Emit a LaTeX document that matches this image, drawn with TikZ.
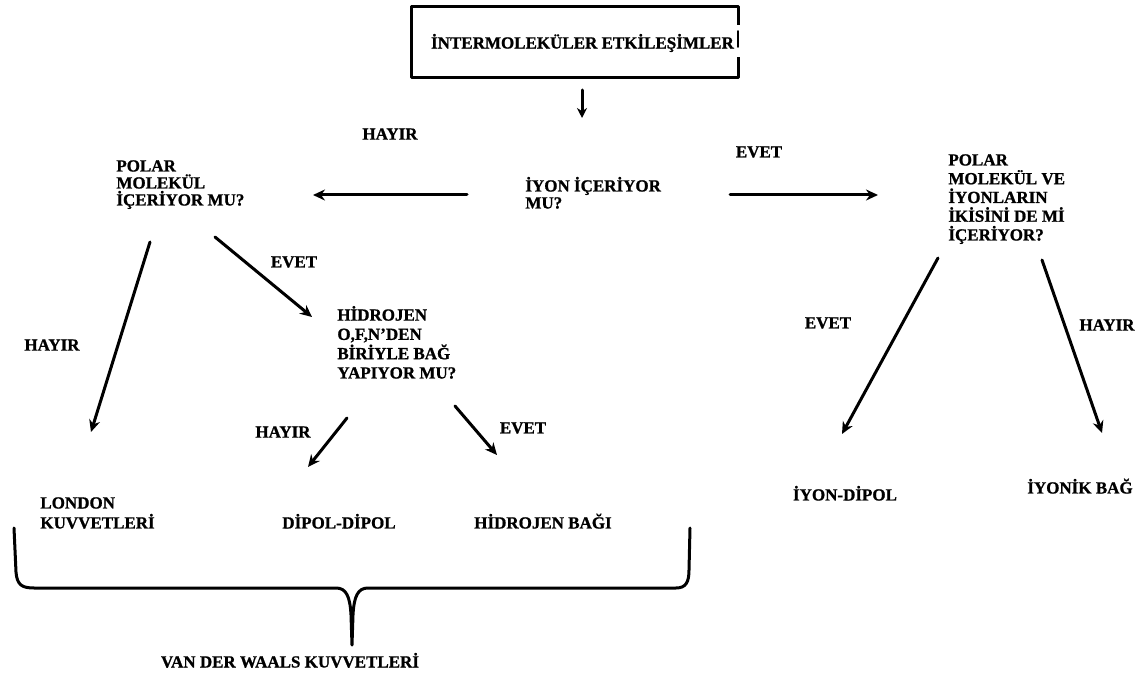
\documentclass[tikz,border=0pt]{standalone}
\usepackage{fontspec}
\setmainfont[BoldFeatures={FakeBold=1}]{Liberation Serif}
\usetikzlibrary{arrows.meta}
\begin{document}
\begin{tikzpicture}[x=0.5pt,y=-0.5pt,line cap=round,line join=round,
  txt/.style={font=\fontsize{8.5pt}{9.25pt}\selectfont\bfseries, inner sep=0pt},
  qtxt/.style={txt, align=left, anchor=base west},
  arr/.style={line width=1.5pt, -{Stealth[length=6pt,width=5.5pt]}}]
  \useasboundingbox (0,0) rectangle (1146,673);
  % top box
  \node[txt] (intermol) at (582.5,43) {İNTERMOLEKÜLER ETKİLEŞİMLER};
  \draw[line width=1.5pt, line cap=butt] (738,25) -- (738,7) -- (411,7) -- (411,78) -- (738,78) -- (738,57);
  \draw[line width=0.8pt] (738,31) -- (738,47);
  % questions (base = last line)
  \node[qtxt, font=\fontsize{8.5pt}{8.5pt}\selectfont\bfseries] (ion) at (525,208.5) {İYON İÇERİYOR\\MU?};
  \node[qtxt, font=\fontsize{8.5pt}{8.5pt}\selectfont\bfseries] (polar) at (116,205.5) {POLAR\\MOLEKÜL\\İÇERİYOR MU?};
  \node[qtxt, font=\fontsize{8.5pt}{9.375pt}\selectfont\bfseries] (both) at (948,240.5) {POLAR\\MOLEKÜL VE\\İYONLARIN\\İKİSİNİ DE Mİ\\İÇERİYOR?};
  \node[qtxt, font=\fontsize{8.5pt}{9.65pt}\selectfont\bfseries] (hyd) at (337,378.5) {HİDROJEN\\O,F,N’DEN\\BİRİYLE BAĞ\\YAPIYOR MU?};
  % results
  \node[qtxt, font=\fontsize{8.5pt}{10pt}\selectfont\bfseries] (london) at (40,528.5) {LONDON\\KUVVETLERİ};
  \node[txt, anchor=base] (dipol) at (339,528.5) {DİPOL-DİPOL};
  \node[txt, anchor=base] (hbond) at (543,528.5) {HİDROJEN BAĞI};
  \node[txt, anchor=base] (iondip) at (845,500.5) {İYON-DİPOL};
  \node[txt, anchor=base] (ionic) at (1080,493.5) {İYONİK BAĞ};
  \node[txt, anchor=base] (vdw) at (290,667.5) {VAN DER WAALS KUVVETLERİ};
  % answers
  \node[txt] (no1) at (390,134) {HAYIR};
  \node[txt] (yes1) at (759,152) {EVET};
  \node[txt] (yes2) at (294,262) {EVET};
  \node[txt] (no2) at (52,345) {HAYIR};
  \node[txt] (no3) at (283,432) {HAYIR};
  \node[txt] (yes3) at (523,428) {EVET};
  \node[txt] (yes4) at (828,323) {EVET};
  \node[txt] (no4) at (1107,325) {HAYIR};
  % arrow ends
  \coordinate (d0) at (582,90);   \coordinate (d1) at (582,118);
  \coordinate (l0) at (467,195);  \coordinate (l1) at (313,195);
  \coordinate (r0) at (730,195);  \coordinate (r1) at (878,195);
  \coordinate (pl0) at (150,242); \coordinate (pl1) at (91,432);
  \coordinate (ph0) at (215,237); \coordinate (ph1) at (312,317);
  \coordinate (hd0) at (347,418); \coordinate (hd1) at (308,467);
  \coordinate (hb0) at (455,406); \coordinate (hb1) at (497,455);
  \coordinate (bi0) at (938,258); \coordinate (bi1) at (842,434);
  \coordinate (bk0) at (1042,260); \coordinate (bk1) at (1102,433);
  \draw[line width=1.5pt, -{Stealth[length=5pt,width=5pt]}] (d0) -- (d1);
  \foreach \a/\b in {l0/l1, r0/r1, pl0/pl1, ph0/ph1, hd0/hd1, hb0/hb1, bi0/bi1, bk0/bk1}
    \draw[arr] (\a) -- (\b);
  % brace
  \draw[line width=1.5pt] (14,528) -- (16,572) .. controls (17,585) and (22,588) .. (34,588)
    -- (336,588) .. controls (346,588) and (350,596) .. (351,615) -- (352,645)
    -- (353,615) .. controls (354,596) and (358,588) .. (368,588)
    -- (676,588) .. controls (686,588) and (689,582) .. (689,570) -- (690,528);
\end{tikzpicture}
\end{document}
